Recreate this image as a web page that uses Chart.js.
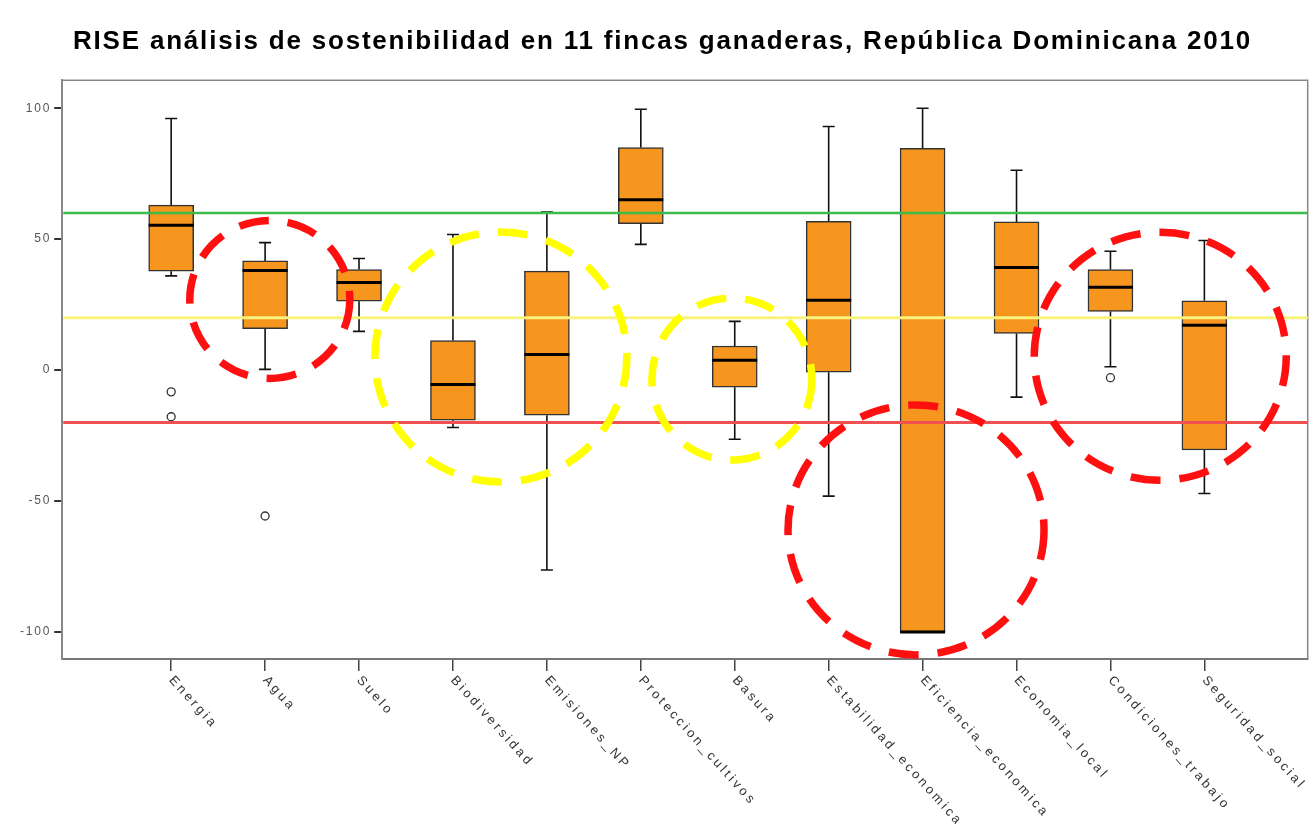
<!DOCTYPE html>
<html lang="es">
<head>
  <meta charset="UTF-8" />
  <title>RISE análisis de sostenibilidad</title>
  <script src="https://cdn.jsdelivr.net/npm/chart.js"></script>
  <style>
    html, body { margin: 0; padding: 0; background: #fff; }
    #wrap { width: 1313px; height: 840px; }
  </style>
</head>
<body>
  <div id="wrap"><canvas id="grafico" width="1313" height="840"></canvas></div>

  <script>
    // categorias (eje x)
    const categorias = ['Energia', 'Agua', 'Suelo', 'Biodiversidad', 'Emisiones_NP', 'Proteccion_cultivos',
      'Basura', 'Estabilidad_economica', 'Eficiencia_economica', 'Economia_local', 'Condiciones_trabajo', 'Seguridad_social']

    // valores de cada caja
    const bigoteInf = [36.0, 0.3, 14.8, -21.9, -76.3, 48.0, -26.4, -48.1, -100, -10.3, 1.3, -47.1]
    const cuartil1  = [37.8, 15.8, 26.3, -19.1, -17.2, 55.9, -6.5, -0.8, -100, 14.0, 22.4, -30.5]
    const mediana   = [55.3, 38.0, 33.5, -5.5, 6.0, 65.1, 3.8, 26.7, -100, 39.2, 31.6, 17.1]
    const cuartil3  = [63.0, 41.7, 38.4, 11.3, 37.8, 85.0, 9.2, 56.8, 84.7, 56.6, 38.4, 26.5]
    const bigoteSup = [96.1, 48.7, 42.6, 51.8, 60.4, 99.6, 18.6, 93.0, 100, 76.3, 45.4, 49.5]

    // valores atipicos
    const atipicosIdx = [0, 0, 1, 10]
    const atipicosVal = [-8.3, -17.8, -55.7, -2.9]

    // lineas de referencia
    const lineasRef = [60, 20, -20]
    const ticksY = [100, 50, 0, -50, -100]

    // estilos
    const naranja = '#f7961e'
    const coloresRef = ['#3dbb4c', '#f8f37e', '#f05050']
    const anchosRef = [2.5, 3, 3]

    // circulos de anotacion (centro en unidades de datos)
    const circulos = [
      { x: 1.05, y: 27, rx: 80, ry: 79, color: '#ff1010' },
      { x: 3.51, y: 5, rx: 126, ry: 125, color: '#ffff00' },
      { x: 5.97, y: -3.4, rx: 80, ry: 81, color: '#ffff00' },
      { x: 7.93, y: -61, rx: 128, ry: 125, color: '#ff1010' },
      { x: 10.53, y: 5.3, rx: 126, ry: 124, color: '#ff1010' }
    ]

    const cajas = categorias.map((c, i) => ({ x: i, y: [cuartil1[i], cuartil3[i]] }))
    const atipicos = atipicosIdx.map((i, k) => ({ x: i, y: atipicosVal[k] }))

    const espaciado = '1.8px'

    const cajaPlugin = {
      id: 'cajaPlugin',
      beforeLayout(chart) {
        chart.ctx.letterSpacing = espaciado
      },
      beforeDraw(chart) {
        chart.ctx.letterSpacing = espaciado
      },
      afterDatasetsDraw(chart) {
        const { ctx, chartArea: a, scales: { x, y } } = chart
        const meta = chart.getDatasetMeta(0)
        ctx.save()
        // bigotes y medianas
        categorias.forEach((c, i) => {
          const px = x.getPixelForValue(i)
          const w = meta.data[i].width
          ctx.strokeStyle = '#111'
          ctx.lineWidth = 1.6
          ctx.beginPath()
          if (bigoteSup[i] > cuartil3[i]) {
            ctx.moveTo(px, y.getPixelForValue(cuartil3[i]))
            ctx.lineTo(px, y.getPixelForValue(bigoteSup[i]))
            ctx.moveTo(px - 6, y.getPixelForValue(bigoteSup[i]))
            ctx.lineTo(px + 6, y.getPixelForValue(bigoteSup[i]))
          }
          if (bigoteInf[i] < cuartil1[i]) {
            ctx.moveTo(px, y.getPixelForValue(cuartil1[i]))
            ctx.lineTo(px, y.getPixelForValue(bigoteInf[i]))
            ctx.moveTo(px - 6, y.getPixelForValue(bigoteInf[i]))
            ctx.lineTo(px + 6, y.getPixelForValue(bigoteInf[i]))
          }
          ctx.stroke()
          ctx.lineWidth = 3
          ctx.strokeStyle = '#000'
          ctx.beginPath()
          ctx.moveTo(px - w / 2, y.getPixelForValue(mediana[i]))
          ctx.lineTo(px + w / 2, y.getPixelForValue(mediana[i]))
          ctx.stroke()
        })
        // marco del area
        ctx.strokeStyle = '#888'
        ctx.lineWidth = 1.5
        ctx.beginPath()
        ctx.moveTo(a.left, a.top)
        ctx.lineTo(a.right, a.top)
        ctx.lineTo(a.right, a.bottom)
        ctx.stroke()
        // lineas de referencia
        lineasRef.forEach((v, k) => {
          ctx.strokeStyle = coloresRef[k]
          ctx.lineWidth = anchosRef[k]
          ctx.beginPath()
          ctx.moveTo(a.left + 1, y.getPixelForValue(v))
          ctx.lineTo(a.right, y.getPixelForValue(v))
          ctx.stroke()
        })
        // circulos punteados
        ctx.lineWidth = 7.5
        ctx.setLineDash([30, 19])
        circulos.forEach(c => {
          ctx.strokeStyle = c.color
          ctx.beginPath()
          ctx.ellipse(x.getPixelForValue(c.x), y.getPixelForValue(c.y), c.rx, c.ry, 0, 0, Math.PI * 2)
          ctx.stroke()
        })
        ctx.setLineDash([])
        ctx.restore()
      },
      afterDraw(chart) {
        // etiquetas giradas del eje x
        const { ctx, chartArea: a, scales: { x } } = chart
        ctx.save()
        ctx.font = '13px "Liberation Sans", Arial, sans-serif'
        ctx.fillStyle = '#333'
        ctx.letterSpacing = '3px'
        ctx.textAlign = 'left'
        ctx.textBaseline = 'middle'
        categorias.forEach((c, i) => {
          ctx.save()
          ctx.translate(x.getPixelForValue(i), a.bottom + 19)
          ctx.rotate(48 * Math.PI / 180)
          ctx.fillText(c, 0, 0)
          ctx.restore()
        })
        ctx.restore()
      }
    }

    new Chart(document.getElementById('grafico'), {
      type: 'bar',
      data: {
        datasets: [{
          type: 'bar',
          data: cajas,
          backgroundColor: naranja,
          borderColor: '#333',
          borderWidth: 1.5,
          borderSkipped: false,
          barThickness: 45
        }, {
          type: 'scatter',
          data: atipicos,
          pointStyle: 'circle',
          pointRadius: 4,
          pointBorderWidth: 1.3,
          pointBorderColor: '#333',
          pointBackgroundColor: '#fff'
        }]
      },
      options: {
        responsive: false,
        animation: false,
        layout: { padding: { left: 17, right: 5, top: 0, bottom: 169 } },
        plugins: {
          legend: { display: false },
          tooltip: { enabled: false },
          title: {
            display: true,
            text: 'RISE análisis de sostenibilidad en 11 fincas ganaderas, República Dominicana 2010',
            color: '#000',
            font: { family: '"Liberation Sans", Arial, sans-serif', size: 26, weight: 'bold' },
            padding: { top: 26, bottom: 23 }
          }
        },
        scales: {
          x: {
            type: 'linear',
            min: -1.16,
            max: 12.1,
            offset: false,
            afterBuildTicks: s => { s.ticks = categorias.map((c, i) => ({ value: i })) },
            ticks: { display: false },
            grid: { offset: false, drawOnChartArea: false, tickLength: 12, color: '#444', lineWidth: 1.5 },
            border: { color: '#777', width: 2 }
          },
          y: {
            min: -110.3,
            max: 110.7,
            afterBuildTicks: s => { s.ticks = ticksY.map(v => ({ value: v })) },
            ticks: { color: '#555', font: { family: '"Liberation Sans", Arial, sans-serif', size: 12 }, padding: 3 },
            grid: { drawOnChartArea: false, tickLength: 8, color: '#333', lineWidth: 2 },
            border: { color: '#888', width: 2 }
          }
        }
      },
      plugins: [cajaPlugin]
    })
  </script>
</body>
</html>
